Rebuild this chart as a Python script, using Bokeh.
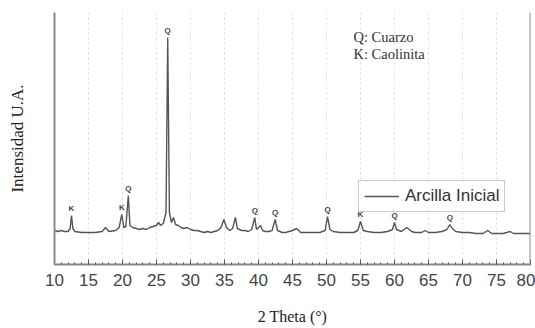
import numpy as np
from bokeh.plotting import figure
from bokeh.models import (Span, SingleIntervalTicker, FixedTicker, Legend, LegendItem,
                          Label, Range1d)
from bokeh.embed import file_html
from bokeh.resources import INLINE
from bokeh.core.properties import value

# ---- data (2 Theta in degrees, intensity in a.u.) ----
two_theta = [10.0, 10.5, 11.0, 11.5, 12.0, 12.3, 12.5, 12.7, 13.0, 14.0, 15.0, 16.0,
             17.0, 17.5, 18.0, 19.0, 19.5, 19.9, 20.2, 20.5, 20.85, 21.1, 21.5, 22.0,
             22.5, 23.0, 23.5, 24.0, 24.5, 25.0, 25.3, 25.6, 26.0, 26.4, 26.65, 26.9,
             27.2, 27.5, 27.8, 28.2, 28.6, 29.0, 29.5, 30.0, 30.5, 31.0, 31.5, 32.0,
             32.5, 33.0, 33.5, 34.0, 34.5, 34.9, 35.3, 35.8, 36.2, 36.6, 36.9, 37.5,
             38.0, 38.5, 39.0, 39.45, 39.7, 40.3, 40.6, 41.0, 41.5, 42.0, 42.45, 42.8,
             43.5, 44.0, 44.5, 45.0, 45.6, 46.2, 47.0, 48.0, 49.0, 49.8, 50.15, 50.5,
             51.0, 52.0, 53.0, 54.0, 54.6, 55.0, 55.4, 56.0, 57.0, 58.0, 59.0, 59.7,
             60.0, 60.3, 61.0, 61.8, 62.5, 63.0, 64.0, 64.5, 65.0, 66.0, 67.0, 67.7,
             68.15, 68.5, 69.0, 70.0, 71.0, 72.0, 73.0, 73.7, 74.3, 75.0, 76.0, 77.0,
             77.5, 78.0, 79.0, 80.0]
intensity = [34, 33, 34, 33, 33, 36, 49, 36, 33, 32, 32, 32,
             33, 37, 33, 34, 37, 50, 37, 38, 69, 39, 37, 36,
             35, 36, 35, 37, 38, 39, 42, 39, 41, 52, 227, 52,
             42, 47, 40, 39, 37, 36, 37, 35, 34, 34, 33, 32,
             33, 32, 33, 34, 37, 45, 37, 34, 36, 47, 36, 34,
             34, 33, 35, 47, 35, 39, 34, 33, 33, 34, 45, 34,
             32, 32, 33, 34, 36, 32, 32, 32, 32, 34, 48, 35,
             33, 32, 32, 32, 34, 43, 34, 33, 32, 32, 33, 35,
             42, 35, 33, 37, 33, 32, 32, 34, 32, 32, 33, 35,
             40, 36, 33, 32, 32, 31, 31, 34, 31, 31, 31, 33,
             31, 31, 31, 31]

peak_pos = [12.5, 19.9, 20.85, 26.65, 39.45, 42.45, 50.15, 55.0, 60.0, 68.15]
peak_phase = ["K", "K", "Q", "Q", "Q", "Q", "Q", "K", "Q", "Q"]
key_lines = ["Q: Cuarzo", "K: Caolinita"]
series_name = "Arcilla Inicial"
x_ticks_step = 5

peak_y = list(np.interp(peak_pos, two_theta, intensity))

p = figure(width=535, height=328, output_backend="svg", toolbar_location=None,
           x_range=Range1d(10, 80), y_range=Range1d(0, 252),
           min_border_left=54, min_border_right=5, min_border_top=12,
           min_border_bottom=64, background_fill_color="white",
           border_fill_color="white")
p.outline_line_color = None

# x axis
p.xaxis.ticker = SingleIntervalTicker(interval=x_ticks_step, num_minor_ticks=5)
p.xaxis.axis_line_color = "#8a8a8a"
p.xaxis.axis_line_width = 2
p.xaxis.major_tick_in = 5
p.xaxis.major_tick_out = 0
p.xaxis.minor_tick_in = 2
p.xaxis.minor_tick_out = 0
p.xaxis.major_tick_line_color = "#555555"
p.xaxis.minor_tick_line_color = "#555555"
p.xaxis.major_label_text_font = "Liberation Sans"
p.xaxis.major_label_text_font_size = "17px"
p.xaxis.major_label_text_color = "#444444"
p.xaxis.major_label_standoff = 9
p.xaxis.axis_label = "2 Theta (°)"
p.xaxis.axis_label_text_font = "Liberation Serif"
p.xaxis.axis_label_text_font_style = "normal"
p.xaxis.axis_label_text_font_size = "16px"
p.xaxis.axis_label_text_color = "#222222"
p.xaxis.axis_label_standoff = 19

# y axis
p.yaxis.ticker = FixedTicker(ticks=[])
p.yaxis.axis_line_color = "#8a8a8a"
p.yaxis.axis_line_width = 2
p.yaxis.axis_label = "Intensidad U.A."
p.yaxis.axis_label_text_font = "Liberation Serif"
p.yaxis.axis_label_text_font_style = "normal"
p.yaxis.axis_label_text_font_size = "17px"
p.yaxis.axis_label_text_color = "#222222"
p.yaxis.axis_label_standoff = 28

# grid
p.xgrid.ticker = SingleIntervalTicker(interval=x_ticks_step)
p.xgrid.grid_line_color = "#d9d9d9"
p.xgrid.grid_line_dash = "2 3"
p.xgrid.grid_line_width = 1
p.ygrid.grid_line_color = None

p.add_layout(Span(location=80, dimension="height", line_color="#8a8a8a", line_width=2))

r = p.line(two_theta, intensity, line_color="#555555", line_width=1.4)

p.text(x=peak_pos, y=peak_y, text=peak_phase, text_font=value("Liberation Sans"),
       text_font_size="8px", text_font_style="bold", text_align="center",
       text_baseline="bottom", y_offset=-3, text_color="#444444")

for i, t in enumerate(key_lines):
    p.add_layout(Label(x=53.97, y=228 - 17 * i, text=t, text_font="Liberation Serif",
                       text_font_size="14.5px", text_color="#333333",
                       text_baseline="middle", text_align="left"))

legend = Legend(items=[LegendItem(label=series_name, renderers=[r])],
                location=(304, 52), orientation="vertical")
legend.border_line_color = "#999999"
legend.border_line_width = 1.5
legend.background_fill_color = "white"
legend.background_fill_alpha = 1
legend.label_text_font = "Liberation Sans"
legend.label_text_font_size = "17px"
legend.label_text_color = "#333333"
legend.glyph_width = 35
legend.glyph_height = 16
legend.label_height = 16
legend.label_standoff = 6
legend.padding = 5
legend.margin = 0
legend.spacing = 0
p.add_layout(legend)

open("out.html", "w").write(file_html(p, INLINE))
